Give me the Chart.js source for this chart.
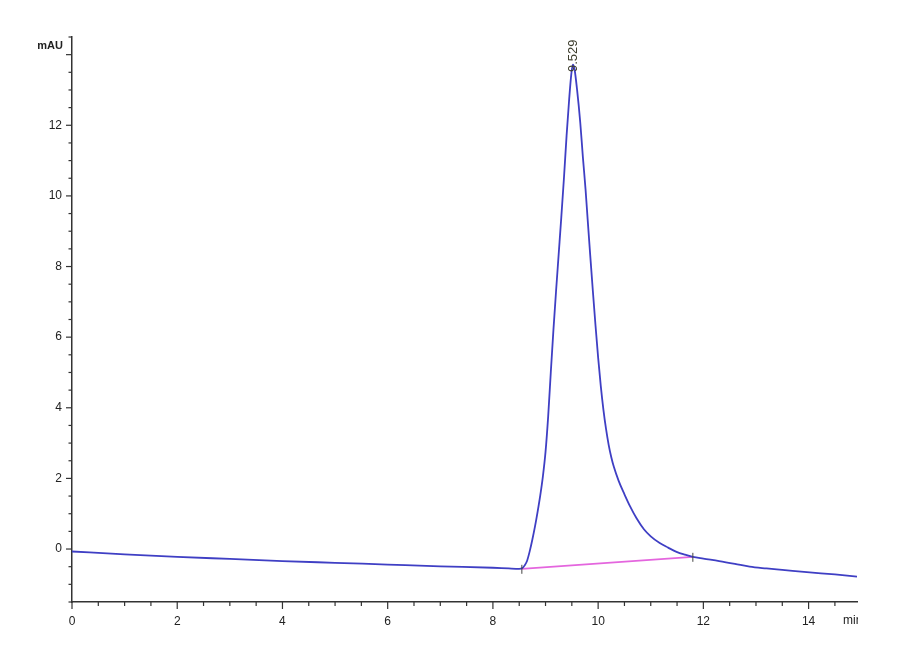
<!DOCTYPE html>
<html>
<head>
<meta charset="utf-8">
<script src="https://cdn.jsdelivr.net/npm/chart.js@4.4.1/dist/chart.umd.min.js"></script>
<style>
html,body{margin:0;padding:0;background:#fff;}
#wrap{width:900px;height:660px;position:relative;}
</style>
</head>
<body>
<div id="wrap"><canvas id="c" width="900" height="660"></canvas></div>
<script>
// Retention time (min) and absorbance (mAU)
const times = [0, 1, 2, 3, 4, 5, 6, 7, 8, 8.3, 8.5, 8.56, 8.6, 8.65, 8.7, 8.75, 8.8, 8.85, 8.9, 8.95, 9.0, 9.05, 9.1, 9.15, 9.2, 9.25, 9.3, 9.35, 9.4, 9.45, 9.49, 9.52, 9.55, 9.6, 9.66, 9.71, 9.76, 9.8, 9.85, 9.9, 9.95, 10.0, 10.05, 10.1, 10.15, 10.2, 10.25, 10.3, 10.39, 10.5, 10.61, 10.73, 10.87, 11.0, 11.17, 11.33, 11.49, 11.65, 11.8, 12.0, 12.3, 12.6, 12.88, 13.2, 13.5, 14.02, 14.5, 14.92];
const signal = [-0.07, -0.15, -0.22, -0.28, -0.34, -0.39, -0.44, -0.49, -0.53, -0.55, -0.56, -0.54, -0.47, -0.33, -0.06, 0.27, 0.64, 1.06, 1.52, 2.06, 2.75, 3.75, 5.0, 6.2, 7.3, 8.35, 9.4, 10.5, 11.7, 12.75, 13.45, 13.72, 13.6, 13.0, 12.08, 11.1, 10.2, 9.35, 8.31, 7.3, 6.33, 5.42, 4.62, 3.95, 3.4, 2.95, 2.6, 2.32, 1.93, 1.55, 1.2, 0.87, 0.56, 0.36, 0.17, 0.04, -0.08, -0.16, -0.22, -0.27, -0.34, -0.42, -0.5, -0.55, -0.59, -0.66, -0.72, -0.78];
// Integration baseline of the peak
const baseTimes = [8.55, 11.8];
const baseSignal = [-0.56, -0.22];
// Peak annotation
const peakTime = 9.529;
const peakLabel = "9.529";
// Axis labelling
const xMajorLabels = [0, 2, 4, 6, 8, 10, 12, 14];
const yMajorLabels = [0, 2, 4, 6, 8, 10, 12];
const yUnit = "mAU";
const xUnit = "min";

const traceData = times.map((t, i) => ({x: t, y: signal[i]}));
const baseData = baseTimes.map((t, i) => ({x: t, y: baseSignal[i]}));

const FONT = '"Liberation Sans Narrow", "Liberation Sans", Arial, sans-serif';

const decor = {
  id: 'decor',
  afterDraw(chart) {
    const ctx = chart.ctx;
    const xs = chart.scales.x, ys = chart.scales.y;
    const ca = chart.chartArea;
    ctx.save();
    ctx.strokeStyle = '#333';
    ctx.lineWidth = 1.2;
    // y ticks
    for (let v = -1.5; v <= 14.5001; v += 0.5) {
      const py = ys.getPixelForValue(v);
      const major = Math.abs(v % 2) < 1e-6;
      ctx.beginPath();
      ctx.moveTo(ca.left, py);
      ctx.lineTo(ca.left - (major ? 6 : 3.5), py);
      ctx.stroke();
    }
    // x ticks
    for (let v = 0; v <= xs.max + 1e-6; v += 0.5) {
      const px = xs.getPixelForValue(v);
      const major = Math.abs(v % 2) < 1e-6;
      ctx.beginPath();
      ctx.moveTo(px, ca.bottom);
      ctx.lineTo(px, ca.bottom + (major ? 7 : 4));
      ctx.stroke();
    }
    // peak start / end markers
    ctx.strokeStyle = '#444';
    ctx.lineWidth = 1;
    baseData.forEach(p => {
      const px = xs.getPixelForValue(p.x), py = ys.getPixelForValue(p.y);
      ctx.beginPath();
      ctx.moveTo(px, py - 4);
      ctx.lineTo(px, py + 5);
      ctx.stroke();
    });
    // units
    ctx.fillStyle = '#222';
    ctx.font = 'bold 11px ' + FONT;
    ctx.textAlign = 'right';
    ctx.textBaseline = 'middle';
    ctx.fillText(yUnit, ca.left - 9, ys.getPixelForValue(14) - 9);
    ctx.save();
    ctx.beginPath();
    ctx.rect(0, 0, ca.right + 1, chart.height);
    ctx.clip();
    ctx.font = '12px ' + FONT;
    ctx.textAlign = 'left';
    ctx.textBaseline = 'top';
    ctx.fillText(xUnit, ca.right - 14, ca.bottom + 13);
    ctx.restore();
    // peak label, rotated
    const px = xs.getPixelForValue(peakTime);
    ctx.translate(px, 72);
    ctx.rotate(-Math.PI / 2);
    ctx.font = '13px ' + FONT;
    ctx.fillStyle = '#3c3c2c';
    ctx.textAlign = 'left';
    ctx.textBaseline = 'middle';
    ctx.fillText(peakLabel, 0, 0);
    ctx.restore();
  }
};

new Chart(document.getElementById('c'), {
  type: 'scatter',
  data: {
    datasets: [
      {
        data: traceData,
        showLine: true,
        borderColor: '#3f3fc4',
        borderWidth: 1.8,
        pointRadius: 0,
        cubicInterpolationMode: 'monotone',
        order: 1
      },
      {
        data: baseData,
        showLine: true,
        borderColor: '#e466de',
        borderWidth: 1.8,
        pointRadius: 0,
        order: 2
      }
    ]
  },
  options: {
    responsive: false,
    animation: false,
    devicePixelRatio: 1,
    layout: {padding: {left: 0, right: 43, top: 37, bottom: 0}},
    plugins: {legend: {display: false}, tooltip: {enabled: false}},
    scales: {
      x: {
        type: 'linear',
        min: 0,
        max: 14.92,
        afterFit(s) { s.height = 58; },
        grid: {display: false},
        border: {display: true, color: '#333', width: 1.5},
        ticks: {
          stepSize: 0.5,
          autoSkip: false,
          maxRotation: 0,
          padding: 4,
          color: '#222',
          font: {family: FONT, size: 12},
          callback: v => xMajorLabels.includes(v) ? String(v) : ''
        }
      },
      y: {
        type: 'linear',
        min: -1.5,
        max: 14.5,
        afterFit(s) { s.width = 72; },
        grid: {display: false},
        border: {display: true, color: '#333', width: 1.5},
        ticks: {
          stepSize: 0.5,
          autoSkip: false,
          padding: 2,
          color: '#222',
          font: {family: FONT, size: 12},
          callback: v => yMajorLabels.includes(v) ? String(v) : ''
        }
      }
    }
  },
  plugins: [decor]
});
</script>
</body>
</html>
